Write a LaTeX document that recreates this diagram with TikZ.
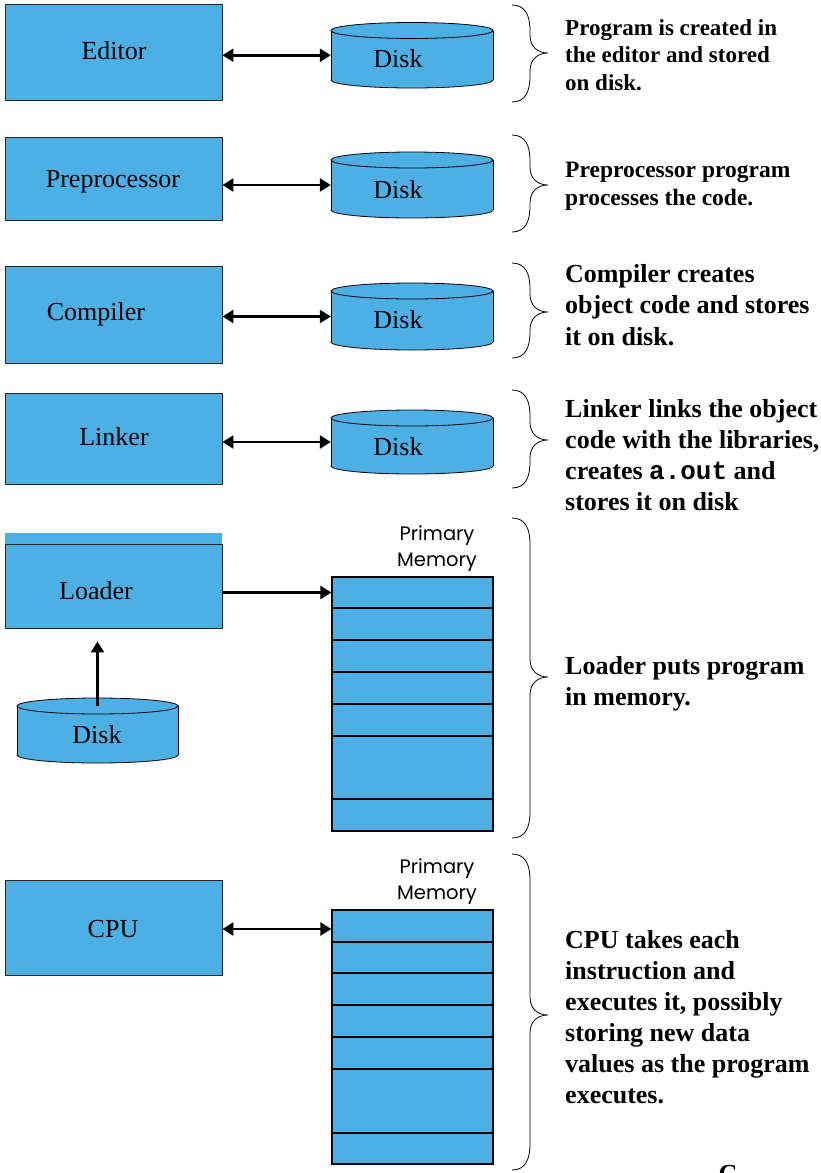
\documentclass[tikz,border=0pt]{standalone}
\usepackage{fontspec}
\setmainfont{Liberation Serif}
\newfontfamily\memfont{Poppins}
\newfontfamily\codefont{Liberation Mono}
\usetikzlibrary{arrows.meta}
\definecolor{boxblue}{RGB}{77,176,228}

% cylinder "disk": #1 name, #2 centre x, #3 top ellipse y, #4 bottom ellipse y, #5 half width
\newcommand\storagedisk[5]{%
  \draw[diskline] (#2,#4) ellipse [x radius=#5pt, y radius=8pt];
  \fill[boxblue] (#2-#5,#3) rectangle (#2+#5,#4);
  \draw[diskline] (#2-#5,#3) -- (#2-#5,#4) (#2+#5,#3) -- (#2+#5,#4);
  \draw[diskline] (#2,#3) ellipse [x radius=#5pt, y radius=8pt];
  \node[inner sep=0pt, minimum width=2*#5pt, minimum height={#4-#3}] (#1) at (#2,{(#3+#4)/2}) {};
}

% curly brace on the right: #1 top y, #2 bottom y, #3 tip y
\newcommand\sidebrace[3]{%
  \draw[bracestroke] (512,#1) .. controls (525,#1) and (530,#1+10) .. (530,#1+26)
    -- (530,#3-18) .. controls (530,#3-6) and (538,#3) .. (548,#3)
    .. controls (538,#3) and (530,#3+6) .. (530,#3+18)
    -- (530,#2-26) .. controls (530,#2-10) and (525,#2) .. (512,#2);
}

\begin{document}
\begin{tikzpicture}[x=1pt,y=-1pt,
  stagebox/.style={draw=black!85, line width=0.9pt, fill=boxblue, minimum width=217pt,
    inner sep=0pt},
  stagetext/.style={inner sep=0pt, text height=17pt, text depth=0pt,
    font=\fontsize{26}{30}\selectfont},
  disktext/.style={stagetext},
  diskline/.style={draw=black, line width=0.8pt, fill=boxblue},
  memrow/.style={draw=black, line width=1.2pt, fill=boxblue, minimum width=161pt, inner sep=0pt},
  memlabel/.style={inner sep=0pt, align=center, font=\memfont\fontsize{19.5}{26}\selectfont},
  note/.style={anchor=west, inner sep=0pt, align=left, font=\bfseries\fontsize{26}{31}\selectfont},
  bracestroke/.style={line width=0.8pt},
  link/.style={line width=2.5pt, {Triangle[length=11pt,width=13pt]}-{Triangle[length=11pt,width=13pt]}},
  feed/.style={line width=2.5pt, -{Triangle[length=11pt,width=13pt]}}
]
\useasboundingbox (0,0) rectangle (820,1173);
\fill[white] (0,0) rectangle (820,1173);

% ---------- editor ----------
\node[stagebox, minimum height=96pt] (editor) at (113.5,52) {};
\node[stagetext] (editortxt) at (114,51) {Editor};
\storagedisk{disk1}{412}{30.5}{80}{81}
\node[disktext] (disk1txt) at (398,59) {Disk};
\draw[link] (disk1.west -| editor.east) -- (disk1.west);
\sidebrace{5}{102}{53}
\node[note, font=\bfseries\fontsize{23}{27.5}\selectfont] (note1) at (565,55)
  {Program is created in\\the editor and stored\\on disk.};

% ---------- preprocessor ----------
\node[stagebox, minimum height=83pt] (prep) at (113.5,178.5) {};
\node[stagetext] (preptxt) at (113,179) {Preprocessor};
\storagedisk{disk2}{412}{160}{210}{81}
\node[disktext] (disk2txt) at (398,190) {Disk};
\draw[link] (disk2.west -| prep.east) -- (disk2.west);
\sidebrace{135}{232}{185}
\node[note, font=\bfseries\fontsize{23.5}{28}\selectfont] (note2) at (565,186)
  {Preprocessor program\\processes the code.};

% ---------- compiler ----------
\node[stagebox, minimum height=97pt] (comp) at (113.5,314.5) {};
\node[stagetext] (comptxt) at (96,312) {Compiler};
\storagedisk{disk3}{412}{291}{342}{81}
\node[disktext] (disk3txt) at (398,320) {Disk};
\draw[link] (disk3.west -| comp.east) -- (disk3.west);
\sidebrace{263}{358}{312}
\node[note, font=\bfseries\fontsize{26}{31.5}\selectfont] (note3) at (565,305)
  {Compiler creates\\object code and stores\\it on disk.};

% ---------- linker ----------
\node[stagebox, minimum height=91pt] (link) at (113.5,438.5) {};
\node[stagetext] (linktxt) at (114,437) {Linker};
\storagedisk{disk4}{412}{418}{466}{81}
\node[disktext] (disk4txt) at (398,447) {Disk};
\draw[link] (disk4.west -| link.east) -- (disk4.west);
\sidebrace{390}{488}{440}
\node[note] (note4) at (565,455)
  {Linker links the object\\code with the libraries,\\creates {\codefont\bfseries a.out} and\\stores it on disk};

% ---------- loader ----------
\fill[boxblue] (5,533) rectangle (222,544);
\node[stagebox, minimum height=84pt] (loader) at (113.5,586) {};
\node[stagetext] (loadertxt) at (96,591) {Loader};
\storagedisk{disk5}{97.5}{706}{755}{80.5}
\node[disktext] (disk5txt) at (97,735) {Disk};
\draw[feed, shorten >=13pt] (disk5.north) -- (disk5.north |- loader.south);
\node[memlabel] (mem5lbl) at (437,549) {Primary\\Memory};
\foreach \t/\b [count=\i] in {577/608,608/640,640/672,672/704,704/736,736/799,799/831}
  \node[memrow, minimum height={(\b-\t)*1pt}] (memA\i) at (412.5,{(\t+\b)/2}) {};
\draw[feed] (memA1.west -| loader.east) -- (memA1.west);
\sidebrace{518}{838}{677}
\node[note] (note5) at (565,684) {Loader puts program\\in memory.};

% ---------- cpu ----------
\node[stagebox, minimum height=95pt] (cpu) at (113.5,927.5) {};
\node[stagetext] (cputxt) at (113,929) {CPU};
\node[memlabel] (mem6lbl) at (437,882) {Primary\\Memory};
\foreach \t/\b [count=\i] in {910/942,942/973,973/1005,1005/1037,1037/1069,1069/1133,1133/1164}
  \node[memrow, minimum height={(\b-\t)*1pt}] (memB\i) at (412.5,{(\t+\b)/2}) {};
\draw[link] ([yshift=-3pt]memB1.west -| cpu.east) -- ([yshift=-3pt]memB1.west);
\sidebrace{854}{1170}{1015}
\node[note] (note6) at (565,1017)
  {CPU takes each\\instruction and\\executes it, possibly\\storing new data\\values as the program\\executes.};

% next line of text, mostly below the page edge
\node[anchor=north, inner sep=0pt, font=\bfseries\fontsize{26}{31}\selectfont] (nextline) at (728,1165) {C};
\end{tikzpicture}
\end{document}
